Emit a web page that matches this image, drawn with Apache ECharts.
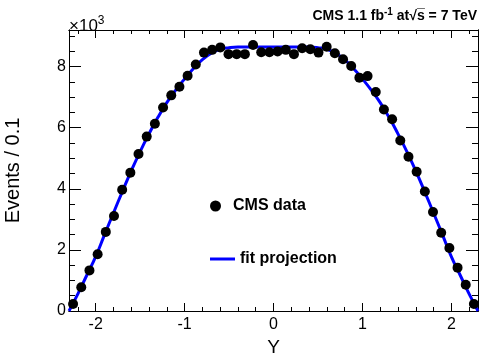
<!DOCTYPE html>
<html>
<head>
<meta charset="utf-8">
<script src="https://cdn.jsdelivr.net/npm/echarts@6/dist/echarts.min.js"></script>
<style>
  html, body { margin: 0; padding: 0; background: #fff; }
  #main { width: 498px; height: 358px; }
</style>
</head>
<body>
<div id="main"></div>
<script>
// bin centres (width 0.092) and measured counts
const binCenters = [
  -2.254, -2.162, -2.070, -1.978, -1.886, -1.794, -1.702, -1.610, -1.518, -1.426,
  -1.334, -1.242, -1.150, -1.058, -0.966, -0.874, -0.782, -0.690, -0.598, -0.506,
  -0.414, -0.322, -0.230, -0.138, -0.046, 0.046, 0.138, 0.230, 0.322, 0.414,
  0.506, 0.598, 0.690, 0.782, 0.874, 0.966, 1.058, 1.150, 1.242, 1.334,
  1.426, 1.518, 1.610, 1.702, 1.794, 1.886, 1.978, 2.070, 2.162, 2.254
];
const dataCounts = [
  230, 780, 1330, 1860, 2590, 3110, 3970, 4530, 5140, 5710,
  6130, 6660, 7060, 7340, 7700, 8070, 8460, 8550, 8630, 8410,
  8410, 8410, 8710, 8470, 8470, 8500, 8550, 8410, 8600, 8570,
  8460, 8650, 8440, 8240, 8020, 7640, 7690, 7170, 6600, 6280,
  5580, 5050, 4560, 3910, 3240, 2560, 2060, 1420, 860, 230
];

// fit projection curve
const fitX = [
  -2.3, -2.2, -2.1, -2.0, -1.9, -1.8, -1.7, -1.6, -1.5, -1.4, -1.3, -1.2,
  -1.1, -1.0, -0.9, -0.8, -0.7, -0.6, -0.5, -0.4, -0.3, -0.2, -0.1, 0.0,
  0.1, 0.2, 0.3, 0.4, 0.5, 0.6, 0.7, 0.8, 0.9, 1.0, 1.1, 1.2,
  1.3, 1.4, 1.5, 1.6, 1.7, 1.8, 1.9, 2.0, 2.1, 2.2, 2.3
];
const fitY = [
  0, 560, 1170, 1780, 2500, 3210, 3910, 4590, 5220, 5800, 6340, 6820,
  7230, 7600, 7940, 8230, 8440, 8570, 8620, 8640, 8640, 8640, 8640, 8640,
  8640, 8640, 8640, 8640, 8620, 8570, 8440, 8230, 7940, 7600, 7230, 6820,
  6340, 5800, 5220, 4590, 3910, 3210, 2500, 1780, 1170, 560, 0
];

// axis ticks
const xMajor = [-2, -1, 0, 1, 2];
const xMinor = [-2.2, -1.8, -1.6, -1.4, -1.2, -0.8, -0.6, -0.4, -0.2,
  0.2, 0.4, 0.6, 0.8, 1.2, 1.4, 1.6, 1.8, 2.2];
const yMajor = [0, 2000, 4000, 6000, 8000];
const yMinor = [500, 1000, 1500, 2500, 3000, 3500, 4500, 5000, 5500,
  6500, 7000, 7500, 8500, 9000];

const font = "'Liberation Sans', Arial, Helvetica, sans-serif";

function xAx(pos, ticks, len, labels) {
  return {
    type: 'value', position: pos, min: -2.3, max: 2.3,
    axisLine: { show: true, onZero: false, lineStyle: { color: '#000', width: 1 } },
    axisTick: { show: true, inside: true, length: len, customValues: ticks, lineStyle: { color: '#000' } },
    axisLabel: labels ? {
      show: true, customValues: ticks, margin: 6, color: '#000',
      fontSize: 16, fontFamily: font
    } : { show: false },
    splitLine: { show: false }
  };
}
function yAx(pos, ticks, len, labels) {
  return {
    type: 'value', position: pos, min: 0, max: 9200,
    axisLine: { show: true, onZero: false, lineStyle: { color: '#000', width: 1 } },
    axisTick: { show: true, inside: true, length: len, customValues: ticks, lineStyle: { color: '#000' } },
    axisLabel: labels ? {
      show: true, customValues: ticks, margin: 3, color: '#000',
      fontSize: 16, fontFamily: font,
      formatter: v => String(v / 1000)
    } : { show: false },
    splitLine: { show: false }
  };
}

const xMain = xAx('bottom', xMajor, 8, true);
xMain.name = 'Y';
xMain.nameLocation = 'middle';
xMain.nameGap = 22;
xMain.nameTextStyle = { fontSize: 19, fontFamily: font, color: '#000' };

const yMain = yAx('left', yMajor, 12, true);
yMain.name = 'Events / 0.1';
yMain.nameLocation = 'middle';
yMain.nameGap = 46;
yMain.nameTextStyle = { fontSize: 20, fontFamily: font, color: '#000' };

const chart = echarts.init(document.getElementById('main'));
chart.setOption({
  animation: false,
  backgroundColor: '#fff',
  grid: { left: 69, right: 20, top: 30, bottom: 47, containLabel: false, outerBoundsMode: 'none' },
  xAxis: [
    xMain,
    xAx('bottom', xMinor, 4, false),
    xAx('top', xMajor, 8, false),
    xAx('top', xMinor, 4, false)
  ],
  yAxis: [
    yMain,
    yAx('left', yMinor, 6, false),
    yAx('right', yMajor, 12, false),
    yAx('right', yMinor, 6, false)
  ],
  legend: [
    {
      data: [{ name: 'CMS data', icon: 'circle' }],
      left: 205, top: 193, orient: 'vertical',
      itemWidth: 25, itemHeight: 11,
      textStyle: { fontSize: 16, fontWeight: 'bold', fontFamily: font, color: '#000' }
    },
    {
      data: [{ name: 'fit projection', icon: 'rect' }],
      left: 205, top: 246, orient: 'vertical',
      itemWidth: 25, itemHeight: 3,
      textStyle: { fontSize: 16, fontWeight: 'bold', fontFamily: font, color: '#000' }
    }
  ],
  graphic: [
    {
      type: 'text', left: 69, top: 15,
      style: {
        text: '{a|×10}{s|3}',
        rich: {
          a: { fontSize: 17, fontFamily: font, fill: '#000', padding: [7, 0, 0, 0] },
          s: { fontSize: 12, fontFamily: font, fill: '#000', padding: [0, 0, 4, 0] }
        }
      }
    },
    {
      type: 'text', right: 21, top: 7,
      style: {
        text: '{b|CMS 1.1 fb}{s|-1}{b| at}{b|√s̅ = 7 TeV}',
        rich: {
          b: { fontSize: 14, fontWeight: 'bold', fontFamily: font, fill: '#000', padding: [5, 0, 0, 0] },
          s: { fontSize: 10, fontWeight: 'bold', fontFamily: font, fill: '#000', padding: [0, 0, 3, 0] }
        }
      }
    }
  ],
  series: [
    {
      name: 'fit projection',
      type: 'line',
      data: fitX.map((x, i) => [x, fitY[i]]),
      smooth: true,
      showSymbol: false,
      lineStyle: { color: '#0000ff', width: 3 },
      itemStyle: { color: '#0000ff' },
      z: 2
    },
    {
      name: 'CMS data',
      type: 'scatter',
      data: binCenters.map((x, i) => [x, dataCounts[i]]),
      symbol: 'circle',
      symbolSize: 10,
      itemStyle: { color: '#000', opacity: 1 },
      z: 3
    }
  ]
});
</script>
</body>
</html>
